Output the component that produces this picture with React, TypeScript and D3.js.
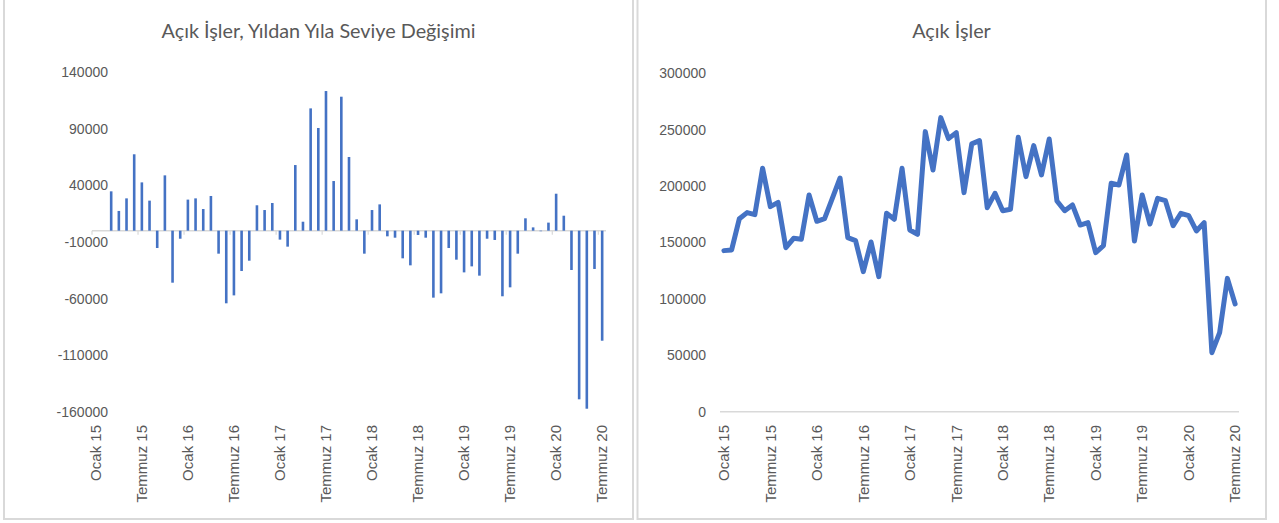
import React from "react";
import * as d3 from "d3";

// months Jan 2015 .. Jul 2020
const monthNames = ["Ocak", "Şubat", "Mart", "Nisan", "Mayıs", "Haziran", "Temmuz", "Ağustos", "Eylül", "Ekim", "Kasım", "Aralık"];
const years = [15, 16, 17, 18, 19, 20];
const categories: string[] = [];
years.forEach((y) => monthNames.forEach((m, i) => {
  if (y < 20 || i <= 6) categories.push(`${m} ${y}`);
}));

// year over year change in job openings
const yoyChange: (number | null)[] = [
  null, null, 34700, 17400, 28500, 67400, 42600, 26500, -15300, 48800, -45900, -7100,
  27400, 28500, 19100, 30600, -20300, -64100, -57100, -35600, -26500, 22400, 18200, 24400,
  -7900, -14100, 57900, 7900, 107900, 90600, 123200, 43800, 118200, 65000, 10000, -20300,
  18200, 23200, -5000, -6200, -24400, -30600, -3800, -6200, -59100, -55300, -15300, -25600,
  -36800, -31500, -39700, -7100, -8200, -57900, -50000, -20300, 10900, 2900, -500, 7100,
  32600, 13200, -34700, -148800, -157100, -33800, -97100,
];

// job openings level
const openings = [
  142800, 143400, 171100, 176500, 174700, 215800, 181800, 185600, 145400, 153700, 152800, 192100,
  168800, 171200, 189200, 207200, 154300, 151600, 124200, 150500, 119700, 175900, 170600, 215800,
  161100, 157300, 248300, 214300, 260700, 242100, 247400, 194200, 237400, 240300, 180900, 193600,
  178200, 179400, 243300, 208400, 235900, 209900, 241800, 186800, 178200, 183300, 165500, 167600,
  141000, 147200, 202500, 201000, 227600, 151300, 192100, 166400, 189200, 187100, 164900, 175900,
  173800, 160200, 167600, 52300, 70100, 118200, 95500,
];

const leftTicks = [140000, 90000, 40000, -10000, -60000, -110000, -160000];
const rightTicks = [0, 50000, 100000, 150000, 200000, 250000, 300000];
const xTickLabels = ["Ocak 15", "Temmuz 15", "Ocak 16", "Temmuz 16", "Ocak 17", "Temmuz 17", "Ocak 18", "Temmuz 18", "Ocak 19", "Temmuz 19", "Ocak 20", "Temmuz 20"];

const W = 1279;
const H = 523;
const BLUE = "#4472C4";
const TEXT = "#595959";
const GRID = "#d9d9d9";
const FONT = "'Liberation Sans', Arial, sans-serif";
const TITLE_FONT = "Lato, 'Open Sans', sans-serif";

const XLabels = ({ x, top }: { x: d3.ScaleBand<string>; top: number }) => (
  <g>
    {xTickLabels.map((lab, i) => {
      const cx = (x(categories[i * 6]) as number) + x.bandwidth() / 2;
      return (
        <text key={lab} transform={`translate(${cx},${top}) rotate(-90)`} textAnchor="end"
          dy="0.35em" fontSize={15} fill={TEXT} fontFamily={FONT}>{lab}</text>
      );
    })}
  </g>
);

const App = () => {
  // left: bar chart
  const xL = d3.scaleBand<string>().domain(categories).range([92, 606]);
  const yL = d3.scaleLinear().domain([-160000, 140000]).range([412, 72]);
  const barW = 2.6;

  // right: line chart
  const xR = d3.scaleBand<string>().domain(categories).range([720, 1239]);
  const yR = d3.scaleLinear().domain([0, 300000]).range([411.7, 73.3]);
  const line = d3.line<number>()
    .x((_, i) => (xR(categories[i]) as number) + xR.bandwidth() / 2)
    .y((d) => yR(d));

  return (
    <svg width={W} height={H} style={{ position: "absolute", left: 0, top: 0, background: "#fff" }}>
      {/* panel frames */}
      <rect x={4} y={-5} width={629} height={524} fill="#fff" stroke={GRID} strokeWidth={2} />
      <rect x={637.5} y={-5} width={628.5} height={524} fill="#fff" stroke={GRID} strokeWidth={2} />

      {/* left chart */}
      <text x={318.5} y={31} textAnchor="middle" dy="0.35em" fontSize={19.8} fill={TEXT} fontFamily={TITLE_FONT}>
        Açık İşler, Yıldan Yıla Seviye Değişimi
      </text>
      {leftTicks.map((t) => (
        <text key={t} x={108} y={yL(t)} textAnchor="end" dy="0.35em" fontSize={14} fill={TEXT} fontFamily={FONT}>{t}</text>
      ))}
      <line x1={92} x2={606} y1={yL(0)} y2={yL(0)} stroke={GRID} strokeWidth={1.5} />
      {d3.range(0, categories.length + 1, 6).map((i) => {
        const bx = 92 + i * xL.step();
        return <line key={i} x1={bx} x2={bx} y1={yL(0)} y2={yL(0) + 4} stroke={GRID} strokeWidth={1.2} />;
      })}
      {yoyChange.map((v, i) => v == null ? null : (
        <rect key={i}
          x={(xL(categories[i]) as number) + xL.bandwidth() / 2 - barW / 2}
          y={yL(Math.max(0, v))}
          width={barW}
          height={Math.abs(yL(v) - yL(0))}
          fill={BLUE} />
      ))}
      <XLabels x={xL} top={425} />

      {/* right chart */}
      <text x={951.5} y={31} textAnchor="middle" dy="0.35em" fontSize={19.8} fill={TEXT} fontFamily={TITLE_FONT}>
        Açık İşler
      </text>
      {rightTicks.map((t) => (
        <text key={t} x={706} y={yR(t)} textAnchor="end" dy="0.35em" fontSize={14} fill={TEXT} fontFamily={FONT}>{t}</text>
      ))}
      <line x1={720} x2={1239} y1={yR(0)} y2={yR(0)} stroke={GRID} strokeWidth={1.5} />
      <path d={line(openings) as string} fill="none" stroke={BLUE} strokeWidth={5}
        strokeLinejoin="round" strokeLinecap="round" />
      <XLabels x={xR} top={425} />
    </svg>
  );
};

export default App;
